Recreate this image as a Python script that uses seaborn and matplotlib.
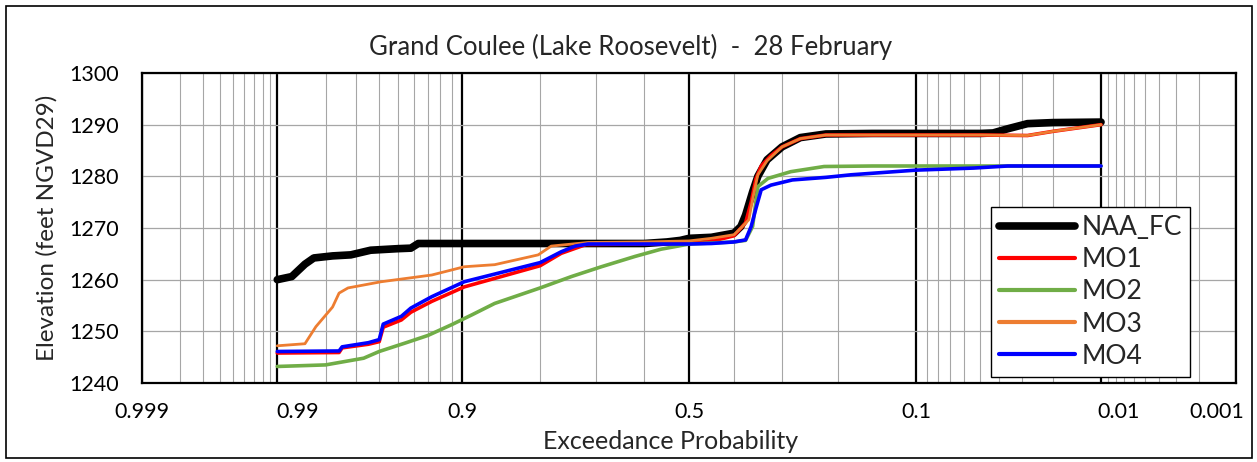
import math
import numpy as np
import pandas as pd
import matplotlib
matplotlib.use("Agg")
import matplotlib.pyplot as plt
import matplotlib.transforms as mtransforms
from matplotlib.patches import Rectangle
import seaborn as sns

# ---------------- data ----------------
title = "Grand Coulee (Lake Roosevelt)  -  28 February"
x_label = "Exceedance Probability"
y_label = "Elevation (feet NGVD29)"

major_probs = [0.999, 0.99, 0.9, 0.5, 0.1, 0.01, 0.001]
major_labels = ["0.999", "0.99", "0.9", "0.5", "0.1", "0.01", "0.001"]
minor_probs = [0.998, 0.997, 0.996, 0.995, 0.994, 0.993, 0.992, 0.991,
               0.98, 0.97, 0.96, 0.95, 0.94, 0.93, 0.92, 0.91,
               0.8, 0.7, 0.6, 0.4, 0.3, 0.2,
               0.09, 0.08, 0.07, 0.06, 0.05, 0.04, 0.03, 0.02,
               0.009, 0.008, 0.007, 0.006, 0.005, 0.004, 0.003, 0.002]
y_ticks = [1240, 1250, 1260, 1270, 1280, 1290, 1300]

naa_p = [0.99, 0.9876, 0.985, 0.983, 0.978, 0.972, 0.964, 0.95, 0.942, 0.937,
         0.90, 0.80, 0.70, 0.60, 0.55, 0.52, 0.50, 0.45, 0.40, 0.385, 0.375,
         0.36, 0.349, 0.33, 0.30, 0.265, 0.22, 0.15, 0.10, 0.05, 0.043, 0.036,
         0.028, 0.02, 0.01]
naa_e = [1260.0, 1260.6, 1263.0, 1264.2, 1264.6, 1264.8, 1265.7, 1266.0, 1266.1, 1267.0,
         1267.0, 1267.0, 1267.0, 1267.0, 1267.3, 1267.6, 1268.0, 1268.2, 1269.0, 1270.3, 1272.5,
         1277.0, 1280.0, 1283.2, 1285.7, 1287.5, 1288.2, 1288.3, 1288.3, 1288.3, 1288.4, 1289.2,
         1290.2, 1290.4, 1290.5]

mo1_p = [0.99, 0.976, 0.975, 0.965, 0.96, 0.958, 0.948, 0.942, 0.927, 0.898,
         0.80, 0.765, 0.72, 0.60, 0.50, 0.45, 0.40, 0.375, 0.363, 0.353, 0.342,
         0.322, 0.30, 0.265, 0.22, 0.10, 0.05, 0.028, 0.02, 0.01]
mo1_e = [1245.8, 1245.9, 1246.8, 1247.5, 1248.0, 1250.8, 1252.2, 1253.7, 1255.8, 1258.6,
         1262.7, 1265.1, 1266.8, 1266.9, 1267.0, 1267.4, 1268.5, 1271.0, 1275.0, 1279.5, 1282.0,
         1284.0, 1285.7, 1287.3, 1288.0, 1288.0, 1288.0, 1287.9, 1288.7, 1290.0]

mo2_p = [0.99, 0.98, 0.967, 0.96, 0.945, 0.93, 0.91, 0.89, 0.864, 0.80,
         0.747, 0.69, 0.62, 0.563, 0.525, 0.50, 0.45, 0.40, 0.375, 0.36, 0.349,
         0.328, 0.283, 0.223, 0.15, 0.10, 0.05, 0.01]
mo2_e = [1243.2, 1243.5, 1244.8, 1246.1, 1247.8, 1249.2, 1251.3, 1253.2, 1255.4, 1258.4,
         1260.6, 1262.5, 1264.5, 1265.9, 1266.5, 1266.9, 1267.1, 1267.3, 1267.6, 1270.3, 1278.0,
         1279.6, 1280.9, 1281.9, 1282.0, 1282.0, 1282.0, 1282.0]

mo3_p = [0.99, 0.985, 0.9825, 0.978, 0.976, 0.973, 0.959, 0.927, 0.898, 0.864,
         0.803, 0.782, 0.716, 0.60, 0.50, 0.45, 0.40, 0.385, 0.368, 0.359, 0.349,
         0.33, 0.30, 0.265, 0.22, 0.15, 0.10, 0.05, 0.028, 0.02, 0.01]
mo3_e = [1247.2, 1247.6, 1250.9, 1254.7, 1257.4, 1258.4, 1259.6, 1260.9, 1262.5, 1262.9,
         1264.8, 1266.5, 1267.2, 1267.3, 1267.5, 1268.0, 1268.7, 1270.0, 1271.6, 1276.0, 1280.3,
         1283.0, 1285.7, 1287.3, 1288.0, 1288.0, 1288.0, 1288.0, 1287.9, 1288.7, 1290.0]

mo4_p = [0.99, 0.976, 0.975, 0.965, 0.96, 0.958, 0.948, 0.942, 0.927, 0.898,
         0.80, 0.765, 0.74, 0.716, 0.60, 0.50, 0.45, 0.40, 0.375, 0.363, 0.353,
         0.342, 0.322, 0.28, 0.22, 0.18, 0.10, 0.054, 0.036, 0.01]
mo4_e = [1246.1, 1246.2, 1247.0, 1247.8, 1248.4, 1251.4, 1252.9, 1254.5, 1256.7, 1259.6,
         1263.3, 1265.4, 1266.5, 1266.9, 1266.9, 1266.9, 1267.0, 1267.3, 1267.7, 1270.3, 1273.8,
         1277.4, 1278.3, 1279.3, 1279.8, 1280.3, 1281.2, 1281.6, 1282.0, 1282.0]

series_names = ["NAA_FC", "MO1", "MO2", "MO3", "MO4"]
series_colors = ["#000000", "#FF0000", "#70AD47", "#ED7D31", "#0000FF"]

# ---------------- probit scale ----------------
_a = [-3.969683028665376e+01, 2.209460984245205e+02, -2.759285104469687e+02,
      1.383577518672690e+02, -3.066479806614716e+01, 2.506628277459239e+00]
_b = [-5.447609879822406e+01, 1.615858368580409e+02, -1.556989798598866e+02,
      6.680131188771972e+01, -1.328068155288572e+01]
_c = [-7.784894002430293e-03, -3.223964580411365e-01, -2.400758277161838e+00,
      -2.549732539343734e+00, 4.374664141464968e+00, 2.938163982698783e+00]
_d = [7.784695709041462e-03, 3.224671290700398e-01, 2.445134137142996e+00,
      3.754408661907416e+00]


def _ppf_scalar(p):
    p = min(max(p, 1e-12), 1 - 1e-12)
    plow = 0.02425
    if p < plow:
        q = math.sqrt(-2 * math.log(p))
        return (((((_c[0]*q+_c[1])*q+_c[2])*q+_c[3])*q+_c[4])*q+_c[5]) / \
               ((((_d[0]*q+_d[1])*q+_d[2])*q+_d[3])*q+1)
    if p > 1 - plow:
        q = math.sqrt(-2 * math.log(1 - p))
        return -(((((_c[0]*q+_c[1])*q+_c[2])*q+_c[3])*q+_c[4])*q+_c[5]) / \
                ((((_d[0]*q+_d[1])*q+_d[2])*q+_d[3])*q+1)
    q = p - 0.5
    r = q * q
    return (((((_a[0]*r+_a[1])*r+_a[2])*r+_a[3])*r+_a[4])*r+_a[5])*q / \
           (((((_b[0]*r+_b[1])*r+_b[2])*r+_b[3])*r+_b[4])*r+1)


def probit(p):
    p = np.asarray(p, dtype=float)
    return np.vectorize(_ppf_scalar, otypes=[float])(np.nan_to_num(p, nan=0.5))


def inv_probit(z):
    z = np.asarray(z, dtype=float)
    return np.vectorize(lambda v: 0.5 * (1 + math.erf(v / math.sqrt(2))), otypes=[float])(z)


# ---------------- figure ----------------
sns.set_theme(style="white")
plt.rcParams["font.family"] = ["Lato", "DejaVu Sans"]

fig = plt.figure(figsize=(12.57, 4.62), dpi=100)
ax = fig.add_axes([0.113, 0.171, 0.8705, 0.671])

ax.set_xscale("function", functions=(probit, inv_probit))

all_p = [naa_p, mo1_p, mo2_p, mo3_p, mo4_p]
all_e = [naa_e, mo1_e, mo2_e, mo3_e, mo4_e]
widths = [5.5, 2.6, 2.6, 2.0, 2.6]
for name, color, pp, ee, lw in zip(series_names, series_colors, all_p, all_e, widths):
    df = pd.DataFrame({"p": pp, "elev": ee})
    sns.lineplot(data=df, x="p", y="elev", ax=ax, color=color, linewidth=lw,
                 label=name, sort=False, estimator=None, zorder=3)

ax.set_xlim(0.999, 0.001)
ax.set_ylim(1240, 1300)
ax.set_xticks(major_probs)
ax.set_xticklabels(major_labels)
ax.set_xticks(minor_probs, minor=True)
ax.set_yticks(y_ticks)
ax.tick_params(axis="both", which="both", length=0, labelsize=15.5, colors="#000000")
ax.tick_params(axis="x", which="major", pad=14)
ax.tick_params(axis="y", which="major", pad=17)

# horizontal label offsets as in the reference (pixels)
label_shift_px = {"0.99": 20, "0.01": 18, "0.001": -20}
for lab in ax.get_xticklabels():
    dx = label_shift_px.get(lab.get_text(), 0)
    if dx:
        lab.set_transform(lab.get_transform() +
                          mtransforms.ScaledTranslation(dx / 100.0, 0, fig.dpi_scale_trans))

ax.grid(True, which="minor", axis="x", color="#a6a6a6", linewidth=0.8, zorder=1)
ax.grid(True, which="major", axis="x", color="#000000", linewidth=1.6, zorder=2)
ax.grid(True, which="major", axis="y", color="#a6a6a6", linewidth=0.9, zorder=1)
ax.set_axisbelow(True)
for s in ax.spines.values():
    s.set_visible(True)
    s.set_color("#000000")
    s.set_linewidth(1.6)

ax.set_xlabel(x_label, fontsize=18, va="center")
ax.xaxis.set_label_coords(0.483, -0.19)
ax.set_ylabel(y_label, fontsize=17.5, labelpad=8)
fig.text(0.502, 0.898, title, ha="center", va="center", fontsize=18.5)

leg = ax.legend(loc="upper left", bbox_to_anchor=(0.7755, 0.567), frameon=True,
                fancybox=False, framealpha=1, edgecolor="#000000", fontsize=19,
                handlelength=2.9, handletextpad=0.25, labelspacing=0.27,
                borderpad=0.3, borderaxespad=0)
leg.get_frame().set_linewidth(1.0)
for line, lw in zip(leg.get_lines(), [5.5, 3.0, 3.0, 3.0, 3.0]):
    line.set_linewidth(lw)

fig.patches.append(Rectangle((0.005, 0.008), 0.991, 0.979, transform=fig.transFigure,
                             fill=False, edgecolor="#000000", linewidth=1.2))

fig.savefig("out.png", dpi=100)
